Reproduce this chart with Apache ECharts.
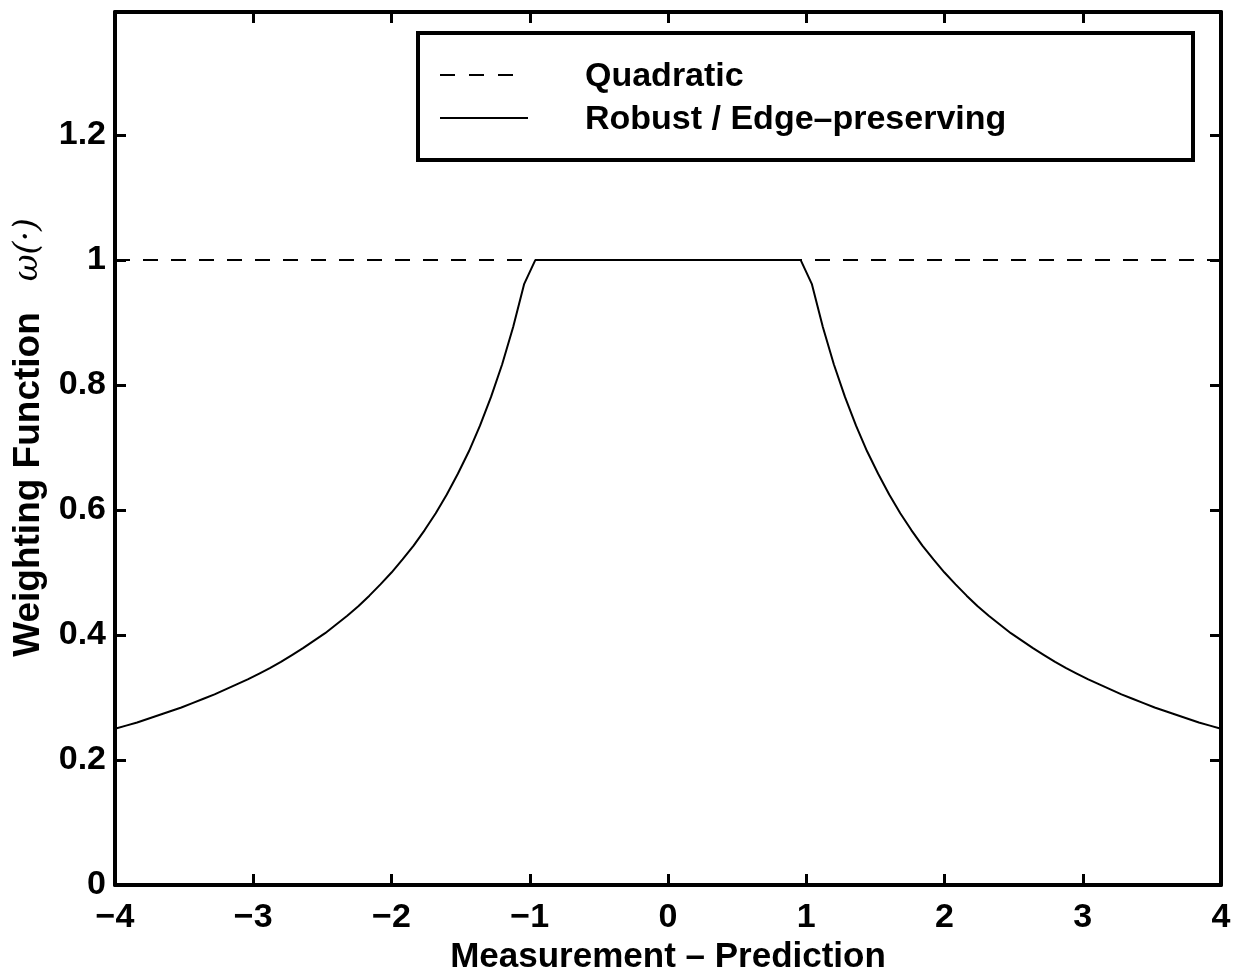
<!DOCTYPE html>
<html>
<head>
<meta charset="utf-8">
<script src="https://cdn.jsdelivr.net/npm/echarts@6/dist/echarts.min.js"></script>
<style>
  html, body { margin: 0; padding: 0; background: #fff; }
  #main { width: 1233px; height: 974px; }
</style>
</head>
<body>
<div id="main"></div>
<script>
// quadratic weighting: constant 1
var quadX = [-4, 4];
var quadW = [1, 1];

// robust / edge-preserving weighting
var robustX = [-4.00, -3.92, -3.84, -3.76, -3.68, -3.60, -3.52, -3.44, -3.36, -3.28,
  -3.20, -3.12, -3.04, -2.96, -2.88, -2.80, -2.72, -2.64, -2.56, -2.48,
  -2.40, -2.32, -2.24, -2.16, -2.08, -2.00, -1.92, -1.84, -1.76, -1.68,
  -1.60, -1.52, -1.44, -1.36, -1.28, -1.20, -1.12, -1.04, -0.96,
  0.96, 1.04, 1.12, 1.20, 1.28, 1.36, 1.44, 1.52, 1.60, 1.68,
  1.76, 1.84, 1.92, 2.00, 2.08, 2.16, 2.24, 2.32, 2.40, 2.48,
  2.56, 2.64, 2.72, 2.80, 2.88, 2.96, 3.04, 3.12, 3.20, 3.28,
  3.36, 3.44, 3.52, 3.60, 3.68, 3.76, 3.84, 3.92, 4.00];
var robustW = [0.250, 0.255, 0.260, 0.266, 0.272, 0.278, 0.284, 0.291, 0.298, 0.305,
  0.313, 0.321, 0.329, 0.338, 0.347, 0.357, 0.368, 0.379, 0.391, 0.403,
  0.417, 0.431, 0.446, 0.463, 0.481, 0.500, 0.521, 0.543, 0.568, 0.595,
  0.625, 0.658, 0.694, 0.735, 0.781, 0.833, 0.893, 0.962, 1.000,
  1.000, 0.962, 0.893, 0.833, 0.781, 0.735, 0.694, 0.658, 0.625, 0.595,
  0.568, 0.543, 0.521, 0.500, 0.481, 0.463, 0.446, 0.431, 0.417, 0.403,
  0.391, 0.379, 0.368, 0.357, 0.347, 0.338, 0.329, 0.321, 0.313, 0.305,
  0.298, 0.291, 0.284, 0.278, 0.272, 0.266, 0.260, 0.255, 0.250];

var seriesNames = ['Quadratic', 'Robust / Edge\u2013preserving'];

function pairs(xs, ys) {
  return xs.map(function (x, i) { return [x, ys[i]]; });
}

var font = 'Liberation Sans, Arial, Helvetica, sans-serif';
var chart = echarts.init(document.getElementById('main'));

function axisCommon(showLabel) {
  return {
    axisLine: { show: true, onZero: false, lineStyle: { color: '#000', width: 4 } },
    axisTick: { show: true, inside: true, length: 11, lineStyle: { color: '#000', width: 3 } },
    splitLine: { show: false },
    axisLabel: { show: showLabel, color: '#000', fontFamily: font, fontWeight: 'bold', fontSize: 34 }
  };
}

function fmtX(v) {
  return String(v).replace('-', '\u2212');
}
function fmtY(v) {
  var r = Math.round(v * 5) / 5;
  if (Math.abs(r - v) > 1e-6 || v > 1.3) return '';
  return String(Math.round(r * 10) / 10);
}

var xBottom = Object.assign(axisCommon(true), {
  type: 'value', min: -4, max: 4, interval: 1, position: 'bottom',
  name: 'Measurement \u2013 Prediction', nameLocation: 'middle', nameGap: 46,
  nameTextStyle: { color: '#000', fontFamily: font, fontWeight: 'bold', fontSize: 35 }
});
xBottom.axisLabel.formatter = fmtX;
xBottom.axisLabel.margin = 16;

var xTop = Object.assign(axisCommon(false), {
  type: 'value', min: -4, max: 4, interval: 1, position: 'top'
});

var yLeft = Object.assign(axisCommon(true), {
  type: 'value', min: 0, max: 1.397, interval: 0.2, position: 'left',
  name: 'Weighting Function   {w|\u03c9(\u00b7)}', nameLocation: 'middle', nameGap: 68,
  nameRotate: 90,
  nameTextStyle: {
    color: '#000', fontFamily: font, fontWeight: 'bold', fontSize: 37,
    padding: [0, 0, 0, 22],
    rich: { w: { fontFamily: 'DejaVu Serif, serif', fontStyle: 'italic', fontWeight: 'normal', fontSize: 33, color: '#000' } }
  }
});
yLeft.axisLabel.formatter = fmtY;
yLeft.axisLabel.margin = 9;

var yRight = Object.assign(axisCommon(false), {
  type: 'value', min: 0, max: 1.397, interval: 0.2, position: 'right'
});

var legendText = { fill: '#000', fontFamily: font, fontWeight: 'bold', fontSize: 34, textVerticalAlign: 'middle' };

var option = {
  backgroundColor: '#fff',
  animation: false,
  grid: { left: 115, right: 12, top: 12, bottom: 89, containLabel: false, outerBoundsMode: 'none' },
  xAxis: [xBottom, xTop],
  yAxis: [yLeft, yRight],
  graphic: [
    {
      type: 'rect', z: 10,
      shape: { x: 418, y: 33, width: 775, height: 127 },
      style: { fill: '#fff', stroke: '#000', lineWidth: 4 }
    },
    {
      type: 'line', z: 11,
      shape: { x1: 440, y1: 75, x2: 513, y2: 75 },
      style: { stroke: '#000', lineWidth: 2, lineDash: [15, 14] }
    },
    {
      type: 'line', z: 11,
      shape: { x1: 440, y1: 118, x2: 528, y2: 118 },
      style: { stroke: '#000', lineWidth: 2 }
    },
    {
      type: 'text', z: 11, x: 585, y: 77,
      style: Object.assign({ text: seriesNames[0] }, legendText)
    },
    {
      type: 'text', z: 11, x: 585, y: 120,
      style: Object.assign({ text: seriesNames[1] }, legendText)
    }
  ],
  series: [
    {
      name: seriesNames[0], type: 'line', xAxisIndex: 0, yAxisIndex: 0,
      data: pairs(quadX, quadW), symbol: 'none', silent: true,
      lineStyle: { color: '#000', width: 2, type: [15, 13] }
    },
    {
      name: seriesNames[1], type: 'line', xAxisIndex: 0, yAxisIndex: 0,
      data: pairs(robustX, robustW), symbol: 'none', silent: true,
      lineStyle: { color: '#000', width: 2, type: 'solid' }
    }
  ]
};

chart.setOption(option);
</script>
</body>
</html>
